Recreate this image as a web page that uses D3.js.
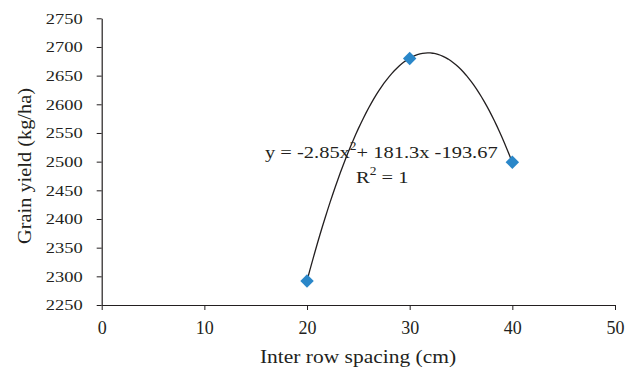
<!DOCTYPE html>
<html><head><meta charset="utf-8">
<script src="https://cdn.jsdelivr.net/npm/d3@7"></script>
<style>body{margin:0;background:#fff}svg{display:block}text{font-family:"Liberation Serif","Times New Roman",serif;fill:#231f20}</style>
</head><body><svg id="c" width="635" height="372"></svg>
<script>
const spacing = [20, 30, 40];
const yieldVals = [2292, 2680, 2499];
const xTicks = [0, 10, 20, 30, 40, 50];
const yTicks = [2250, 2300, 2350, 2400, 2450, 2500, 2550, 2600, 2650, 2700, 2750];
const trendCoef = [-2.85, 181.3, -193.67]; // a, b, c
const eqLabel = "y = -2.85x";
const eqRest = "+ 181.3x -193.67";

const svg = d3.select("#c");
const x = d3.scaleLinear().domain([0, 50]).range([101.7, 615]);
const y = d3.scaleLinear().domain([2250, 2750]).range([305, 18.3]);

const xa = svg.append("g").attr("transform", "translate(0,305)")
  .call(d3.axisBottom(x).tickValues(xTicks).tickFormat(d3.format("d")).tickSize(5).tickPadding(9).tickSizeOuter(0));
const ya = svg.append("g").attr("transform", "translate(101.7,0)")
  .call(d3.axisLeft(y).tickValues(yTicks).tickFormat(d3.format("d")).tickSize(5).tickPadding(13).tickSizeOuter(0));
[xa, ya].forEach(g => {
  g.select(".domain").attr("stroke", "#231f20").attr("stroke-width", 1.2);
  g.selectAll(".tick line").attr("stroke", "#231f20").attr("stroke-width", 1);
  g.selectAll(".tick text").attr("font-family", null).attr("fill", "#231f20");
});
ya.selectAll(".tick text").attr("font-size", 15).attr("transform", "scale(1.23,1)").attr("x", -19 / 1.23);
xa.selectAll(".tick text").attr("font-size", 18).attr("transform", "scale(1.0,1.1)");

// trendline from its equation
const xs = d3.range(20, 40.001, 0.25);
const line = d3.line().x(d => x(d)).y(d => y(trendCoef[0]*d*d + trendCoef[1]*d + trendCoef[2]));
svg.append("path").datum(xs).attr("d", line).attr("fill", "none").attr("stroke", "#231f20").attr("stroke-width", 1.3);

svg.selectAll(".pt").data(spacing).enter().append("path")
  .attr("d", d3.symbol().type(d3.symbolSquare).size(90))
  .attr("transform", (d, i) => `translate(${x(d)},${y(yieldVals[i])}) rotate(45)`)
  .attr("fill", "#2a87c9");

function label(tx, ty, fs, sx, rot) {
  return svg.append("g").attr("transform", `translate(${tx},${ty})${rot ? " rotate(" + rot + ")" : ""} scale(${sx},1)`)
    .append("text").attr("font-size", fs);
}
const eq = label(265, 158, 17.5, 1.17);
eq.append("tspan").text(eqLabel);
eq.append("tspan").attr("dy", -8).attr("font-size", 11.5).text("2");
eq.append("tspan").attr("dy", 8).text(eqRest);
const r2 = label(356, 183, 17.5, 1.17);
r2.append("tspan").text("R");
r2.append("tspan").attr("dy", -8).attr("font-size", 11.5).text("2");
r2.append("tspan").attr("dy", 8).text(" = 1");

label(358, 363, 19, 1.13).attr("text-anchor", "middle").text("Inter row spacing (cm)");
label(31, 166, 18.5, 1.1, -90).attr("text-anchor", "middle").text("Grain yield (kg/ha)");
</script></body></html>
